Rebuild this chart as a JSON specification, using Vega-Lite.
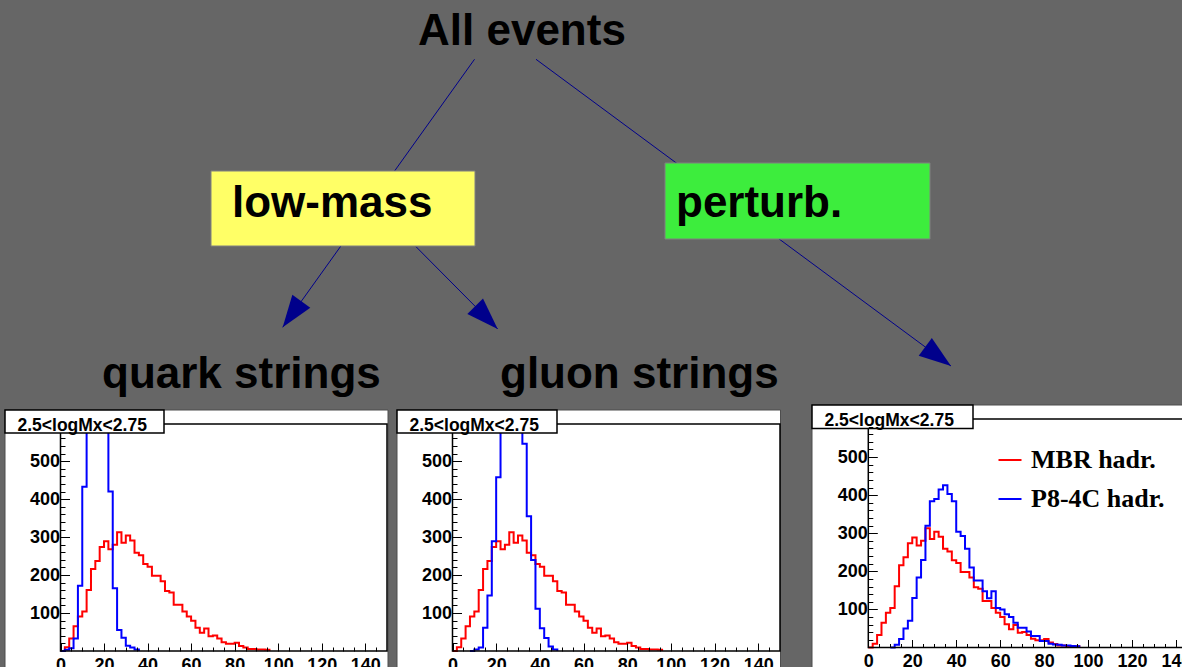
{
  "$schema": "https://vega.github.io/schema/vega-lite/v6.json",
  "width": 1182,
  "height": 667,
  "autosize": {"type": "none"},
  "padding": 0,
  "background": "#666666",
  "config": {
    "view": {"stroke": null},
    "font": "Liberation Sans",
    "axis": {
      "labelFont": "Liberation Sans",
      "labelFontSize": 18,
      "labelFontWeight": "bold",
      "labelColor": "black",
      "tickColor": "black",
      "tickWidth": 1
    }
  },
  "datasets": {
    "edges": [
      {"from": "All events", "to": "quark strings", "x": 474.5, "y": 59.3, "x2": 282.7, "y2": 327.3},
      {"from": "low-mass", "to": "gluon strings", "x": 416, "y": 246.7, "x2": 497.7, "y2": 329},
      {"from": "All events", "to": "perturb.", "x": 536, "y": 59.3, "x2": 951, "y2": 366}
    ],
    "boxes": [
      {"name": "low-mass", "x": 211, "x2": 475, "y": 171, "y2": 246},
      {"name": "perturb.", "x": 665, "x2": 930, "y": 163, "y2": 239}
    ],
    "labels": [
      {"text": "All events", "x": 418, "y": 45},
      {"text": "low-mass", "x": 232, "y": 217},
      {"text": "perturb.", "x": 676, "y": 217},
      {"text": "quark strings", "x": 102, "y": 388},
      {"text": "gluon strings", "x": 500, "y": 388}
    ],
    "pads": [
      {"panel": "quark strings", "x": 5, "x2": 388, "y": 410, "y2": 690},
      {"panel": "gluon strings", "x": 397, "x2": 780.5, "y": 410, "y2": 690},
      {"panel": "perturb.", "x": 812, "x2": 1200, "y": 405, "y2": 690}
    ],
    "titles": [
      {"label": "2.5<logMx<2.75", "x": 5, "x2": 164, "y": 410, "y2": 433},
      {"label": "2.5<logMx<2.75", "x": 397, "x2": 557, "y": 410, "y2": 433},
      {"label": "2.5<logMx<2.75", "x": 812, "x2": 973, "y": 405, "y2": 428.5}
    ],
    "mbr": [
      {"series": "MBR hadr.", "x": 0, "count": 0},
      {"series": "MBR hadr.", "x": 2, "count": 10},
      {"series": "MBR hadr.", "x": 4, "count": 33},
      {"series": "MBR hadr.", "x": 6, "count": 65},
      {"series": "MBR hadr.", "x": 8, "count": 91},
      {"series": "MBR hadr.", "x": 10, "count": 104},
      {"series": "MBR hadr.", "x": 12, "count": 161},
      {"series": "MBR hadr.", "x": 14, "count": 216},
      {"series": "MBR hadr.", "x": 16, "count": 237},
      {"series": "MBR hadr.", "x": 18, "count": 274},
      {"series": "MBR hadr.", "x": 20, "count": 289},
      {"series": "MBR hadr.", "x": 22, "count": 268},
      {"series": "MBR hadr.", "x": 24, "count": 280},
      {"series": "MBR hadr.", "x": 26, "count": 313},
      {"series": "MBR hadr.", "x": 28, "count": 285},
      {"series": "MBR hadr.", "x": 30, "count": 304},
      {"series": "MBR hadr.", "x": 32, "count": 291},
      {"series": "MBR hadr.", "x": 34, "count": 259},
      {"series": "MBR hadr.", "x": 36, "count": 252},
      {"series": "MBR hadr.", "x": 38, "count": 229},
      {"series": "MBR hadr.", "x": 40, "count": 222},
      {"series": "MBR hadr.", "x": 42, "count": 198},
      {"series": "MBR hadr.", "x": 44, "count": 198},
      {"series": "MBR hadr.", "x": 46, "count": 184},
      {"series": "MBR hadr.", "x": 48, "count": 158},
      {"series": "MBR hadr.", "x": 50, "count": 154},
      {"series": "MBR hadr.", "x": 52, "count": 122},
      {"series": "MBR hadr.", "x": 54, "count": 122},
      {"series": "MBR hadr.", "x": 56, "count": 104},
      {"series": "MBR hadr.", "x": 58, "count": 91},
      {"series": "MBR hadr.", "x": 60, "count": 80},
      {"series": "MBR hadr.", "x": 62, "count": 61},
      {"series": "MBR hadr.", "x": 64, "count": 48},
      {"series": "MBR hadr.", "x": 66, "count": 59},
      {"series": "MBR hadr.", "x": 68, "count": 39},
      {"series": "MBR hadr.", "x": 70, "count": 41},
      {"series": "MBR hadr.", "x": 72, "count": 33},
      {"series": "MBR hadr.", "x": 74, "count": 23},
      {"series": "MBR hadr.", "x": 76, "count": 19},
      {"series": "MBR hadr.", "x": 78, "count": 19},
      {"series": "MBR hadr.", "x": 80, "count": 22},
      {"series": "MBR hadr.", "x": 82, "count": 13},
      {"series": "MBR hadr.", "x": 84, "count": 9},
      {"series": "MBR hadr.", "x": 86, "count": 5},
      {"series": "MBR hadr.", "x": 88, "count": 5},
      {"series": "MBR hadr.", "x": 90, "count": 4},
      {"series": "MBR hadr.", "x": 92, "count": 4},
      {"series": "MBR hadr.", "x": 94, "count": 3},
      {"series": "MBR hadr.", "x": 96, "count": 0}
    ],
    "p8_quark": [
      {"series": "P8-4C hadr.", "x": 0, "count": 0},
      {"series": "P8-4C hadr.", "x": 2, "count": 3},
      {"series": "P8-4C hadr.", "x": 4, "count": 7},
      {"series": "P8-4C hadr.", "x": 6, "count": 33},
      {"series": "P8-4C hadr.", "x": 8, "count": 172},
      {"series": "P8-4C hadr.", "x": 10, "count": 433},
      {"series": "P8-4C hadr.", "x": 12, "count": 800},
      {"series": "P8-4C hadr.", "x": 14, "count": 1100},
      {"series": "P8-4C hadr.", "x": 16, "count": 1100},
      {"series": "P8-4C hadr.", "x": 18, "count": 950},
      {"series": "P8-4C hadr.", "x": 20, "count": 700},
      {"series": "P8-4C hadr.", "x": 22, "count": 420},
      {"series": "P8-4C hadr.", "x": 24, "count": 165},
      {"series": "P8-4C hadr.", "x": 26, "count": 55},
      {"series": "P8-4C hadr.", "x": 28, "count": 35},
      {"series": "P8-4C hadr.", "x": 30, "count": 14},
      {"series": "P8-4C hadr.", "x": 32, "count": 9},
      {"series": "P8-4C hadr.", "x": 34, "count": 4},
      {"series": "P8-4C hadr.", "x": 36, "count": 0}
    ],
    "p8_gluon": [
      {"series": "P8-4C hadr.", "x": 8, "count": 0},
      {"series": "P8-4C hadr.", "x": 10, "count": 4},
      {"series": "P8-4C hadr.", "x": 12, "count": 9},
      {"series": "P8-4C hadr.", "x": 14, "count": 61},
      {"series": "P8-4C hadr.", "x": 16, "count": 146},
      {"series": "P8-4C hadr.", "x": 18, "count": 289},
      {"series": "P8-4C hadr.", "x": 20, "count": 458},
      {"series": "P8-4C hadr.", "x": 22, "count": 650},
      {"series": "P8-4C hadr.", "x": 24, "count": 720},
      {"series": "P8-4C hadr.", "x": 26, "count": 760},
      {"series": "P8-4C hadr.", "x": 28, "count": 740},
      {"series": "P8-4C hadr.", "x": 30, "count": 660},
      {"series": "P8-4C hadr.", "x": 32, "count": 546},
      {"series": "P8-4C hadr.", "x": 34, "count": 355},
      {"series": "P8-4C hadr.", "x": 36, "count": 240},
      {"series": "P8-4C hadr.", "x": 38, "count": 111},
      {"series": "P8-4C hadr.", "x": 40, "count": 60},
      {"series": "P8-4C hadr.", "x": 42, "count": 34},
      {"series": "P8-4C hadr.", "x": 44, "count": 12},
      {"series": "P8-4C hadr.", "x": 46, "count": 4},
      {"series": "P8-4C hadr.", "x": 48, "count": 0}
    ],
    "p8_perturb": [
      {"series": "P8-4C hadr.", "x": 10, "count": 0},
      {"series": "P8-4C hadr.", "x": 12, "count": 7},
      {"series": "P8-4C hadr.", "x": 14, "count": 22},
      {"series": "P8-4C hadr.", "x": 16, "count": 50},
      {"series": "P8-4C hadr.", "x": 18, "count": 70},
      {"series": "P8-4C hadr.", "x": 20, "count": 130},
      {"series": "P8-4C hadr.", "x": 22, "count": 184},
      {"series": "P8-4C hadr.", "x": 24, "count": 230},
      {"series": "P8-4C hadr.", "x": 26, "count": 320},
      {"series": "P8-4C hadr.", "x": 28, "count": 384},
      {"series": "P8-4C hadr.", "x": 30, "count": 390},
      {"series": "P8-4C hadr.", "x": 32, "count": 415},
      {"series": "P8-4C hadr.", "x": 34, "count": 426},
      {"series": "P8-4C hadr.", "x": 36, "count": 403},
      {"series": "P8-4C hadr.", "x": 38, "count": 384},
      {"series": "P8-4C hadr.", "x": 40, "count": 304},
      {"series": "P8-4C hadr.", "x": 42, "count": 293},
      {"series": "P8-4C hadr.", "x": 44, "count": 259},
      {"series": "P8-4C hadr.", "x": 46, "count": 210},
      {"series": "P8-4C hadr.", "x": 48, "count": 176},
      {"series": "P8-4C hadr.", "x": 50, "count": 176},
      {"series": "P8-4C hadr.", "x": 52, "count": 148},
      {"series": "P8-4C hadr.", "x": 54, "count": 129},
      {"series": "P8-4C hadr.", "x": 56, "count": 148},
      {"series": "P8-4C hadr.", "x": 58, "count": 104},
      {"series": "P8-4C hadr.", "x": 60, "count": 100},
      {"series": "P8-4C hadr.", "x": 62, "count": 87},
      {"series": "P8-4C hadr.", "x": 64, "count": 80},
      {"series": "P8-4C hadr.", "x": 66, "count": 65},
      {"series": "P8-4C hadr.", "x": 68, "count": 52},
      {"series": "P8-4C hadr.", "x": 70, "count": 52},
      {"series": "P8-4C hadr.", "x": 72, "count": 42},
      {"series": "P8-4C hadr.", "x": 74, "count": 30},
      {"series": "P8-4C hadr.", "x": 76, "count": 30},
      {"series": "P8-4C hadr.", "x": 78, "count": 17},
      {"series": "P8-4C hadr.", "x": 80, "count": 17},
      {"series": "P8-4C hadr.", "x": 82, "count": 10},
      {"series": "P8-4C hadr.", "x": 84, "count": 8},
      {"series": "P8-4C hadr.", "x": 86, "count": 7},
      {"series": "P8-4C hadr.", "x": 88, "count": 5},
      {"series": "P8-4C hadr.", "x": 90, "count": 5},
      {"series": "P8-4C hadr.", "x": 92, "count": 4},
      {"series": "P8-4C hadr.", "x": 94, "count": 3},
      {"series": "P8-4C hadr.", "x": 96, "count": 0}
    ]
  },
  "resolve": {
    "scale": {"x": "independent", "y": "independent", "color": "shared"},
    "axis": {"x": "independent", "y": "independent"}
  },
  "layer": [
    {
      "encoding": {
        "x": {"field": "x", "type": "quantitative", "scale": {"domain": [0, 1182], "range": [0, 1182], "nice": false, "zero": false}, "axis": null},
        "y": {"field": "y", "type": "quantitative", "scale": {"domain": [0, 667], "range": [0, 667], "nice": false, "zero": false}, "axis": null}
      },
      "layer": [
        {
          "data": {"name": "edges"},
          "mark": {"type": "rule", "color": "#00008b", "strokeWidth": 1},
          "encoding": {"x2": {"field": "x2"}, "y2": {"field": "y2"}}
        },
        {
          "data": {"name": "edges"},
          "transform": [{"calculate": "atan2(datum.x - datum.x2, datum.y2 - datum.y) * 180 / PI", "as": "heading"}],
          "mark": {"type": "point", "shape": "M0,0L-0.69,-2L0.69,-2Z", "size": 1024, "filled": true, "color": "#00008b", "opacity": 1, "strokeWidth": 0},
          "encoding": {
            "x": {"field": "x2", "type": "quantitative", "scale": {"domain": [0, 1182], "range": [0, 1182], "nice": false, "zero": false}, "axis": null},
            "y": {"field": "y2", "type": "quantitative", "scale": {"domain": [0, 667], "range": [0, 667], "nice": false, "zero": false}, "axis": null},
            "angle": {"field": "heading", "type": "quantitative", "scale": null}
          }
        },
        {
          "data": {"name": "boxes"},
          "mark": {"type": "rect", "stroke": "#808080", "strokeWidth": 1},
          "encoding": {
            "x2": {"field": "x2"},
            "y2": {"field": "y2"},
            "fill": {"field": "name", "type": "nominal", "scale": {"domain": ["low-mass", "perturb."], "range": ["#ffff66", "#3ded3d"]}, "legend": null}
          }
        },
        {
          "data": {"name": "labels"},
          "mark": {"type": "text", "align": "left", "baseline": "alphabetic", "font": "Liberation Sans", "fontWeight": "bold", "fontSize": 44, "color": "black"},
          "encoding": {"text": {"field": "text"}}
        },
        {
          "data": {"name": "pads"},
          "mark": {"type": "rect", "fill": "white", "stroke": "#4d4d4d", "strokeWidth": 1},
          "encoding": {"x2": {"field": "x2"}, "y2": {"field": "y2"}}
        }
      ]
    },
    {
      "resolve": {"axis": {"x": "independent", "y": "independent"}},
      "layer": [
        {
          "data": {"name": "mbr"},
          "mark": {"type": "line", "interpolate": "step-after", "strokeWidth": 2},
          "encoding": {
            "x": {"field": "x", "type": "quantitative", "scale": {"domain": [0, 150], "range": [60.5, 387], "nice": false, "zero": false},
                  "axis": {"orient": "bottom", "offset": -16, "values": [0, 20, 40, 60, 80, 100, 120, 140], "tickSize": -8, "labelPadding": 13, "labelFlush": false, "labelOverlap": false, "labelBound": false, "format": "d", "domain": false, "grid": false, "title": null, "zindex": 1}},
            "y": {"field": "count", "type": "quantitative", "scale": {"domain": [0, 598], "range": [651, 424], "nice": false, "zero": false, "clamp": true},
                  "axis": {"orient": "left", "offset": -60.5, "values": [100, 200, 300, 400, 500], "tickSize": -9, "labelPadding": 10, "labelOverlap": false, "labelFlush": false, "format": "d", "domain": false, "grid": false, "title": null, "zindex": 1}},
            "color": {"field": "series", "type": "nominal", "scale": {"domain": ["MBR hadr.", "P8-4C hadr."], "range": ["#ff0000", "#0000ff"]},
                      "legend": {"title": null, "orient": "none", "legendX": 997, "legendY": 447, "symbolType": "stroke", "symbolSize": 529, "symbolStrokeWidth": 2, "labelFont": "Liberation Serif", "labelFontWeight": "bold", "labelFontSize": 26, "labelColor": "black", "labelOffset": 8, "rowPadding": 13, "padding": 0, "labelLimit": 0}}
          }
        },
        {
          "data": {"name": "p8_quark"},
          "mark": {"type": "line", "interpolate": "step-after", "strokeWidth": 2},
          "encoding": {
            "x": {"field": "x", "type": "quantitative", "scale": {"domain": [0, 150], "range": [60.5, 387], "nice": false, "zero": false}, "axis": null},
            "y": {"field": "count", "type": "quantitative", "scale": {"domain": [0, 598], "range": [651, 424], "nice": false, "zero": false, "clamp": true}, "axis": null},
            "color": {"field": "series", "type": "nominal", "scale": {"domain": ["MBR hadr.", "P8-4C hadr."], "range": ["#ff0000", "#0000ff"]},
                      "legend": {"title": null, "orient": "none", "legendX": 997, "legendY": 447, "symbolType": "stroke", "symbolSize": 529, "symbolStrokeWidth": 2, "labelFont": "Liberation Serif", "labelFontWeight": "bold", "labelFontSize": 26, "labelColor": "black", "labelOffset": 8, "rowPadding": 13, "padding": 0, "labelLimit": 0}}
          }
        },
        {
          "data": {"values": [{"frame": "quark strings"}]},
          "mark": {"type": "rect", "filled": false, "color": "black", "strokeWidth": 1.5},
          "encoding": {
            "x": {"datum": 0, "type": "quantitative",
                  "axis": {"orient": "bottom", "offset": -16, "values": [5, 10, 15, 25, 30, 35, 45, 50, 55, 65, 70, 75, 85, 90, 95, 105, 110, 115, 125, 130, 135, 145], "labels": false, "tickSize": -4, "domain": false, "grid": false, "title": null, "zindex": 1}},
            "x2": {"datum": 150},
            "y": {"datum": 0, "type": "quantitative",
                  "axis": {"orient": "left", "offset": -60.5, "values": [20, 40, 60, 80, 120, 140, 160, 180, 220, 240, 260, 280, 320, 340, 360, 380, 420, 440, 460, 480, 520, 540, 560], "labels": false, "tickSize": -4.5, "domain": false, "grid": false, "title": null, "zindex": 1}},
            "y2": {"datum": 598}
          }
        }
      ]
    },
    {
      "resolve": {"axis": {"x": "independent", "y": "independent"}},
      "layer": [
        {
          "data": {"name": "mbr"},
          "mark": {"type": "line", "interpolate": "step-after", "strokeWidth": 2},
          "encoding": {
            "x": {"field": "x", "type": "quantitative", "scale": {"domain": [0, 150], "range": [452.5, 780], "nice": false, "zero": false},
                  "axis": {"orient": "bottom", "offset": -16, "values": [0, 20, 40, 60, 80, 100, 120, 140], "tickSize": -8, "labelPadding": 13, "labelFlush": false, "labelOverlap": false, "labelBound": false, "format": "d", "domain": false, "grid": false, "title": null, "zindex": 1}},
            "y": {"field": "count", "type": "quantitative", "scale": {"domain": [0, 598], "range": [651, 424], "nice": false, "zero": false, "clamp": true},
                  "axis": {"orient": "left", "offset": -452.5, "values": [100, 200, 300, 400, 500], "tickSize": -9, "labelPadding": 10, "labelOverlap": false, "labelFlush": false, "format": "d", "domain": false, "grid": false, "title": null, "zindex": 1}},
            "color": {"field": "series", "type": "nominal", "scale": {"domain": ["MBR hadr.", "P8-4C hadr."], "range": ["#ff0000", "#0000ff"]},
                      "legend": {"title": null, "orient": "none", "legendX": 997, "legendY": 447, "symbolType": "stroke", "symbolSize": 529, "symbolStrokeWidth": 2, "labelFont": "Liberation Serif", "labelFontWeight": "bold", "labelFontSize": 26, "labelColor": "black", "labelOffset": 8, "rowPadding": 13, "padding": 0, "labelLimit": 0}}
          }
        },
        {
          "data": {"name": "p8_gluon"},
          "mark": {"type": "line", "interpolate": "step-after", "strokeWidth": 2},
          "encoding": {
            "x": {"field": "x", "type": "quantitative", "scale": {"domain": [0, 150], "range": [452.5, 780], "nice": false, "zero": false}, "axis": null},
            "y": {"field": "count", "type": "quantitative", "scale": {"domain": [0, 598], "range": [651, 424], "nice": false, "zero": false, "clamp": true}, "axis": null},
            "color": {"field": "series", "type": "nominal", "scale": {"domain": ["MBR hadr.", "P8-4C hadr."], "range": ["#ff0000", "#0000ff"]},
                      "legend": {"title": null, "orient": "none", "legendX": 997, "legendY": 447, "symbolType": "stroke", "symbolSize": 529, "symbolStrokeWidth": 2, "labelFont": "Liberation Serif", "labelFontWeight": "bold", "labelFontSize": 26, "labelColor": "black", "labelOffset": 8, "rowPadding": 13, "padding": 0, "labelLimit": 0}}
          }
        },
        {
          "data": {"values": [{"frame": "gluon strings"}]},
          "mark": {"type": "rect", "filled": false, "color": "black", "strokeWidth": 1.5},
          "encoding": {
            "x": {"datum": 0, "type": "quantitative",
                  "axis": {"orient": "bottom", "offset": -16, "values": [5, 10, 15, 25, 30, 35, 45, 50, 55, 65, 70, 75, 85, 90, 95, 105, 110, 115, 125, 130, 135, 145], "labels": false, "tickSize": -4, "domain": false, "grid": false, "title": null, "zindex": 1}},
            "x2": {"datum": 150},
            "y": {"datum": 0, "type": "quantitative",
                  "axis": {"orient": "left", "offset": -452.5, "values": [20, 40, 60, 80, 120, 140, 160, 180, 220, 240, 260, 280, 320, 340, 360, 380, 420, 440, 460, 480, 520, 540, 560], "labels": false, "tickSize": -4.5, "domain": false, "grid": false, "title": null, "zindex": 1}},
            "y2": {"datum": 598}
          }
        }
      ]
    },
    {
      "resolve": {"axis": {"x": "independent", "y": "independent"}},
      "layer": [
        {
          "data": {"name": "mbr"},
          "mark": {"type": "line", "interpolate": "step-after", "strokeWidth": 2},
          "encoding": {
            "x": {"field": "x", "type": "quantitative", "scale": {"domain": [0, 150], "range": [868.3, 1198], "nice": false, "zero": false},
                  "axis": {"orient": "bottom", "offset": -19.5, "values": [0, 20, 40, 60, 80, 100, 120, 140], "tickSize": -8, "labelPadding": 13, "labelFlush": false, "labelOverlap": false, "labelBound": false, "format": "d", "domain": false, "grid": false, "title": null, "zindex": 1}},
            "y": {"field": "count", "type": "quantitative", "scale": {"domain": [0, 600], "range": [647.5, 419], "nice": false, "zero": false, "clamp": true},
                  "axis": {"orient": "left", "offset": -868.3, "values": [100, 200, 300, 400, 500], "tickSize": -9, "labelPadding": 10, "labelOverlap": false, "labelFlush": false, "format": "d", "domain": false, "grid": false, "title": null, "zindex": 1}},
            "color": {"field": "series", "type": "nominal", "scale": {"domain": ["MBR hadr.", "P8-4C hadr."], "range": ["#ff0000", "#0000ff"]},
                      "legend": {"title": null, "orient": "none", "legendX": 997, "legendY": 447, "symbolType": "stroke", "symbolSize": 529, "symbolStrokeWidth": 2, "labelFont": "Liberation Serif", "labelFontWeight": "bold", "labelFontSize": 26, "labelColor": "black", "labelOffset": 8, "rowPadding": 13, "padding": 0, "labelLimit": 0}}
          }
        },
        {
          "data": {"name": "p8_perturb"},
          "mark": {"type": "line", "interpolate": "step-after", "strokeWidth": 2},
          "encoding": {
            "x": {"field": "x", "type": "quantitative", "scale": {"domain": [0, 150], "range": [868.3, 1198], "nice": false, "zero": false}, "axis": null},
            "y": {"field": "count", "type": "quantitative", "scale": {"domain": [0, 600], "range": [647.5, 419], "nice": false, "zero": false, "clamp": true}, "axis": null},
            "color": {"field": "series", "type": "nominal", "scale": {"domain": ["MBR hadr.", "P8-4C hadr."], "range": ["#ff0000", "#0000ff"]},
                      "legend": {"title": null, "orient": "none", "legendX": 997, "legendY": 447, "symbolType": "stroke", "symbolSize": 529, "symbolStrokeWidth": 2, "labelFont": "Liberation Serif", "labelFontWeight": "bold", "labelFontSize": 26, "labelColor": "black", "labelOffset": 8, "rowPadding": 13, "padding": 0, "labelLimit": 0}}
          }
        },
        {
          "data": {"values": [{"frame": "perturb."}]},
          "mark": {"type": "rect", "filled": false, "color": "black", "strokeWidth": 1.5},
          "encoding": {
            "x": {"datum": 0, "type": "quantitative",
                  "axis": {"orient": "bottom", "offset": -19.5, "values": [5, 10, 15, 25, 30, 35, 45, 50, 55, 65, 70, 75, 85, 90, 95, 105, 110, 115, 125, 130, 135, 145], "labels": false, "tickSize": -4, "domain": false, "grid": false, "title": null, "zindex": 1}},
            "x2": {"datum": 150},
            "y": {"datum": 0, "type": "quantitative",
                  "axis": {"orient": "left", "offset": -868.3, "values": [20, 40, 60, 80, 120, 140, 160, 180, 220, 240, 260, 280, 320, 340, 360, 380, 420, 440, 460, 480, 520, 540, 560, 580], "labels": false, "tickSize": -4.5, "domain": false, "grid": false, "title": null, "zindex": 1}},
            "y2": {"datum": 600}
          }
        }
      ]
    },
    {
      "data": {"name": "titles"},
      "encoding": {
        "x": {"field": "x", "type": "quantitative", "scale": {"domain": [0, 1182], "range": [0, 1182], "nice": false, "zero": false}, "axis": null},
        "y": {"field": "y2", "type": "quantitative", "scale": {"domain": [0, 667], "range": [0, 667], "nice": false, "zero": false}, "axis": null}
      },
      "layer": [
        {
          "mark": {"type": "rect", "fill": "white", "stroke": "black", "strokeWidth": 1.5},
          "encoding": {
            "x2": {"field": "x2"},
            "y": {"field": "y", "type": "quantitative", "scale": {"domain": [0, 667], "range": [0, 667], "nice": false, "zero": false}, "axis": null},
            "y2": {"field": "y2"}
          }
        },
        {
          "mark": {"type": "text", "align": "left", "baseline": "alphabetic", "dx": 12.5, "dy": -2.5, "font": "Liberation Sans", "fontWeight": "bold", "fontSize": 17.5, "color": "black"},
          "encoding": {"text": {"field": "label"}}
        }
      ]
    }
  ]
}
